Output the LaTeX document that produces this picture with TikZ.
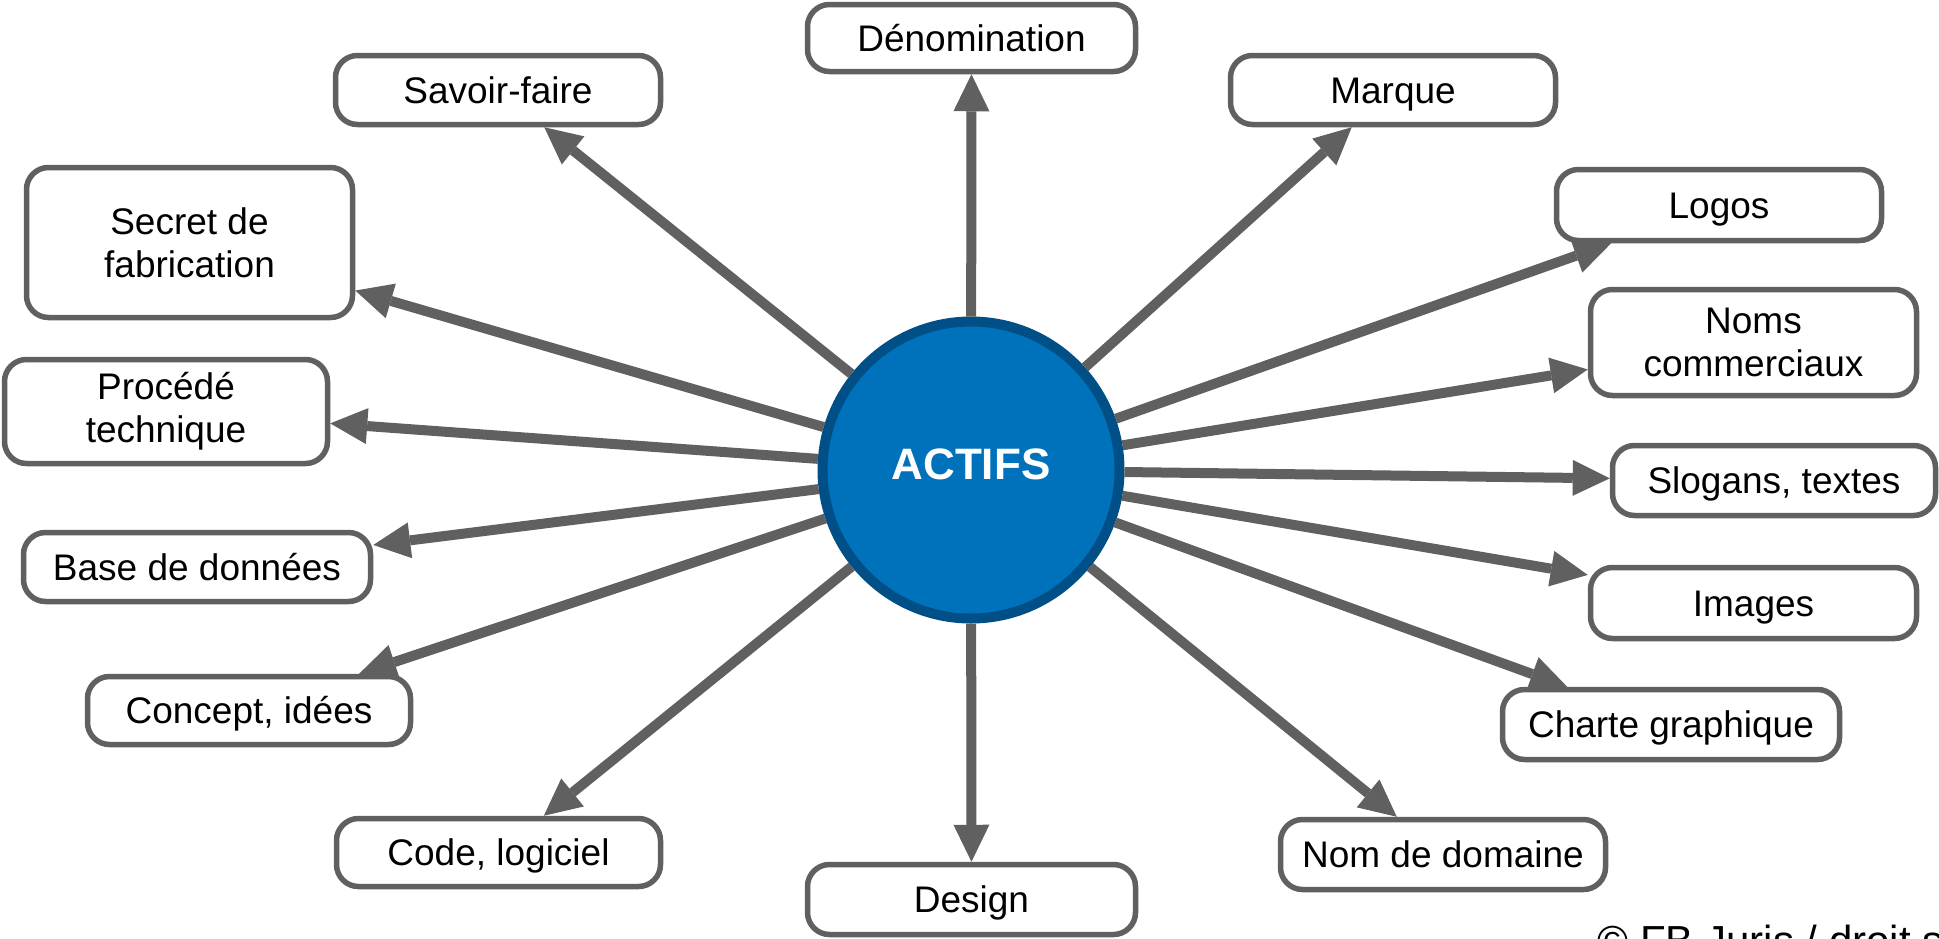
\documentclass[tikz,border=0pt]{standalone}
\usepackage{fontspec}
\setmainfont{Liberation Sans}
\usetikzlibrary{arrows.meta}
\definecolor{lgray}{RGB}{96,96,96}
\definecolor{cfill}{RGB}{0,114,187}
\definecolor{cedge}{RGB}{0,80,135}
\begin{document}
\begin{tikzpicture}[x=0.5pt,y=-0.5pt,
  box/.style={draw=lgray, line width=2.75pt, rounded corners=11pt, fill=white,
    inner sep=0pt, align=center, font=\fontsize{18.5pt}{21.5pt}\selectfont,
    minimum width=162.5pt, minimum height=34.5pt},
  one/.style={text height=13.25pt, text depth=0pt},
  arr/.style={draw=lgray, line width=5pt, -{Triangle[length=18.5pt,width=18pt,line width=0pt]}},
  hub/.style={circle, draw=cedge, fill=cfill, line width=5pt, minimum size=148.5pt, inner sep=0pt},
]
\useasboundingbox (0,0) rectangle (1939,938);
\clip (0,0) rectangle (1939,938);

% boxes
\node[box,one,minimum width=164pt,minimum height=33.5pt] (den) at (971.5,38) {Dénomination};
\node[box,one] (sav) at (498,90) {Savoir-faire};
\node[box,one] (mar) at (1393,90) {Marque};
\node[box,minimum width=163pt,minimum height=75pt] (sec) at (189.5,242.5) {Secret de\\fabrication};
\node[box,one,minimum height=35.5pt] (log) at (1719,205) {Logos};
\node[box,minimum width=161.5pt,minimum height=52pt] (pro) at (166,411.5) {Procédé\\technique};
\node[box,minimum width=163pt,minimum height=53pt] (nom) at (1753.5,342.5) {Noms\\commerciaux};
\node[box,one,minimum width=173.5pt] (bas) at (197,567) {Base de données};
\node[box,one,minimum width=161.5pt,minimum height=35pt] (slo) at (1774,480.5) {Slogans, textes};
\node[box,one,minimum width=163pt,minimum height=35.5pt] (ima) at (1753.5,603) {Images};
\node[box,one,minimum width=161.5pt,minimum height=34pt] (con) at (249,710.5) {Concept, idées};
\node[box,one,minimum width=168.5pt,minimum height=35pt] (cha) at (1671,724.5) {Charte graphique};
\node[box,one,minimum width=162pt,minimum height=34pt] (cod) at (498.5,852.5) {Code, logiciel};
\node[box,one,minimum height=35pt] (dom) at (1443,854.5) {Nom de domaine};
\node[box,one,minimum width=164pt,minimum height=35pt] (des) at (971.5,899.5) {Design};

% hub
\node[hub] (hub) at (971,470) {};
\node[text=white, inner sep=0pt, font=\bfseries\fontsize{22pt}{26pt}\selectfont] (lbl) at (971,464) {ACTIFS};

% connectors
\foreach \t in {den,sav,mar,sec,log,pro,nom,bas,slo,ima,con,cha,cod,dom,des}
  \draw[arr] (hub) -- (\t);

% credit
\node[anchor=base west, inner sep=0pt, font=\fontsize{21pt}{25pt}\selectfont] (copy) at (1597,955) {© FB Juris / droit so};
\end{tikzpicture}
\end{document}
